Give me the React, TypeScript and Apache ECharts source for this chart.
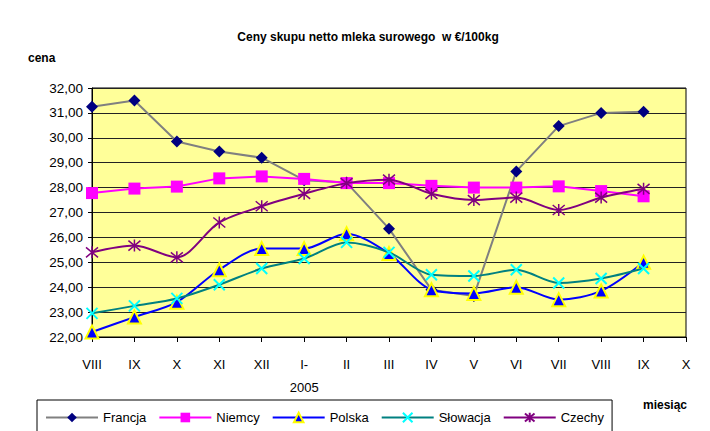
import React, { useEffect, useRef } from "react";
import * as echarts from "echarts";

const months = ["VIII", "IX", "X", "XI", "XII", "I-", "II", "III", "IV", "V", "VI", "VII", "VIII", "IX", "X"];
const yearLabel = "2005";
const francja = [31.25, 31.5, 29.85, 29.45, 29.2, 28.3, 28.2, 26.35, 23.9, 23.65, 28.65, 30.47, 31.0, 31.05];
const niemcy = [27.78, 27.96, 28.04, 28.37, 28.45, 28.35, 28.18, 28.18, 28.07, 28.0, 28.0, 28.05, 27.86, 27.65];
const polska = [22.2, 22.8, 23.4, 24.7, 25.55, 25.55, 26.15, 25.35, 23.9, 23.75, 24.0, 23.5, 23.85, 25.0];
const slowacja = [22.95, 23.25, 23.55, 24.1, 24.75, 25.15, 25.8, 25.4, 24.5, 24.45, 24.7, 24.17, 24.35, 24.75];
const czechy = [25.4, 25.67, 25.2, 26.6, 27.25, 27.75, 28.18, 28.32, 27.75, 27.5, 27.6, 27.1, 27.6, 27.95];

const FONT = "'Liberation Sans', Arial, sans-serif";

export default function App() {
  const ref = useRef<HTMLDivElement>(null);
  useEffect(() => {
    if (!ref.current) return;
    const chart = echarts.init(ref.current, null, { renderer: "svg" });
    const xSym = "path://M0,0L10,10M10,0L0,10";
    const starSym = "path://M0,0L10,10M10,0L0,10M5,-1L5,11";
    chart.setOption({
      animation: false,
      backgroundColor: "#ffffff",
      textStyle: { fontFamily: FONT },
      grid: {
        left: 92,
        right: 24,
        top: 88,
        bottom: 94,
        show: true,
        backgroundColor: "#FFFF99",
        borderColor: "#000",
        borderWidth: 1,
      },
      xAxis: {
        type: "category",
        data: months,
        boundaryGap: false,
        axisLine: { lineStyle: { color: "#000", width: 1 } },
        axisTick: { show: true, length: 5, inside: false, alignWithLabel: true, lineStyle: { color: "#000" } },
        axisLabel: {
          color: "#000",
          fontSize: 13,
          fontFamily: FONT,
          margin: 16,
          interval: 0,
          lineHeight: 23,
          formatter: (v: string, i: number) => (i === 5 ? v + "\n" + yearLabel : v),
        },
        splitLine: { show: false },
      },
      yAxis: {
        type: "value",
        min: 22,
        max: 32,
        interval: 1,
        axisLine: { show: true, lineStyle: { color: "#000", width: 1 } },
        axisTick: { show: true, length: 4, lineStyle: { color: "#000" } },
        axisLabel: {
          color: "#000",
          fontSize: 13.5,
          fontFamily: FONT,
          margin: 9,
          formatter: (v: number) => v.toFixed(2).replace(".", ","),
        },
        splitLine: { show: true, lineStyle: { color: "#222", width: 1 } },
      },
      legend: {
        left: 37,
        top: 400,
        padding: [11, 8, 12, 8],
        itemGap: 12,
        itemWidth: 52,
        itemHeight: 12,
        backgroundColor: "#fff",
        borderColor: "#000",
        borderWidth: 1,
        borderRadius: 0,
        textStyle: { color: "#000", fontSize: 13, fontFamily: FONT },
        data: ["Francja", "Niemcy", "Polska", "Słowacja", "Czechy"],
      },
      graphic: [
        {
          type: "text",
          x: 368,
          y: 37,
          style: {
            text: "Ceny skupu netto mleka surowego  w €/100kg",
            fontSize: 12,
            fontWeight: "bold",
            fontFamily: FONT,
            fill: "#000",
            align: "center",
            verticalAlign: "middle",
          },
        },
        {
          type: "text",
          x: 28,
          y: 58,
          style: { text: "cena", fontSize: 12, fontWeight: "bold", fontFamily: FONT, fill: "#000", verticalAlign: "middle" },
        },
        {
          type: "text",
          x: 643,
          y: 405,
          style: { text: "miesiąc", fontSize: 12, fontWeight: "bold", fontFamily: FONT, fill: "#000", verticalAlign: "middle" },
        },
      ],
      series: [
        {
          name: "Francja",
          type: "line",
          data: francja,
          symbol: "diamond",
          symbolSize: 12,
          itemStyle: { color: "#000080" },
          lineStyle: { color: "#808080", width: 2 },
          z: 2,
        },
        {
          name: "Niemcy",
          type: "line",
          data: niemcy,
          symbol: "rect",
          symbolSize: 12,
          itemStyle: { color: "#FF00FF" },
          lineStyle: { color: "#FF00FF", width: 2 },
          z: 3,
        },
        {
          name: "Polska",
          type: "line",
          data: polska,
          smooth: 0.3,
          symbol: "triangle",
          symbolSize: 13,
          itemStyle: { color: "#0000FF", borderColor: "#FFFF00", borderWidth: 2 },
          lineStyle: { color: "#0000FF", width: 2 },
          z: 4,
        },
        {
          name: "Słowacja",
          type: "line",
          data: slowacja,
          smooth: 0.3,
          symbol: xSym,
          symbolSize: 11,
          itemStyle: { color: "#00FFFF", borderColor: "#00FFFF", borderWidth: 2 },
          lineStyle: { color: "#008080", width: 2 },
          z: 5,
        },
        {
          name: "Czechy",
          type: "line",
          data: czechy,
          smooth: 0.3,
          symbol: starSym,
          symbolSize: 12,
          itemStyle: { color: "#800080", borderColor: "#800080", borderWidth: 1.5 },
          lineStyle: { color: "#800080", width: 2 },
          z: 6,
        },
      ],
    });
    return () => chart.dispose();
  }, []);
  return <div ref={ref} style={{ width: 710, height: 431, position: "absolute", left: 0, top: 0 }} />;
}
